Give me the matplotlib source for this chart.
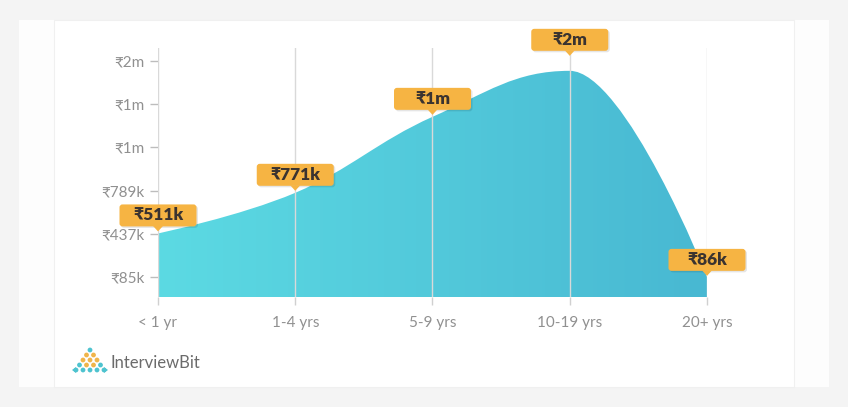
import numpy as np
import matplotlib
matplotlib.use("Agg")
import matplotlib.pyplot as plt
from matplotlib.path import Path
from matplotlib.patches import PathPatch, FancyBboxPatch, Polygon, Rectangle, Circle

plt.rcParams['font.family'] = ['Lato', 'Noto Sans', 'DejaVu Sans']

# ---------------- data ----------------
categories = ["< 1 yr", "1-4 yrs", "5-9 yrs", "10-19 yrs", "20+ yrs"]
salary_k = [440, 771, 1390, 1765, 86]          # curve heights (thousand ₹)
point_labels = ["₹511k", "₹771k", "₹1m", "₹2m", "₹86k"]
ytick_values_k = [85, 437, 789, 1141, 1493, 1845]
ytick_labels = ["₹85k", "₹437k", "₹789k", "₹1m", "₹1m", "₹2m"]

W, H = 848, 407
fig = plt.figure(figsize=(W / 100, H / 100), dpi=100)
fig.patch.set_facecolor("#f4f4f4")

# card background
fig.patches.append(Rectangle((19 / W, 1 - 387 / H), (829 - 19) / W, (387 - 20) / H,
                             transform=fig.transFigure, fc="#fdfdfd", ec="none", zorder=-10))
fig.patches.append(Rectangle((54 / W, 1 - 387 / H), (794 - 54) / W, (387 - 20) / H,
                             transform=fig.transFigure, fc="#ffffff", ec="#f0f0f0", lw=0.8, zorder=-9))

ax = fig.add_axes([158 / W, 1 - 297 / H, (707 - 158) / W, (297 - 48) / H])
ax.set_zorder(1)
ax.set_facecolor("none")
n = len(categories)
xs = np.arange(n, dtype=float)
ax.set_xlim(0, n - 1)
ax.set_ylim(-78, 1951)

# --------- Highcharts-like spline ----------
ys = np.array(salary_k, dtype=float)
smooth = 1.5
lc = [(x, y) for x, y in zip(xs, ys)]
rc = [(x, y) for x, y in zip(xs, ys)]
for i in range(1, n - 1):
    px, py = xs[i], ys[i]
    lx, ly = xs[i - 1], ys[i - 1]
    nx, ny = xs[i + 1], ys[i + 1]
    lcx = (smooth * px + lx) / (smooth + 1)
    lcy = (smooth * py + ly) / (smooth + 1)
    rcx = (smooth * px + nx) / (smooth + 1)
    rcy = (smooth * py + ny) / (smooth + 1)
    corr = (rcy - lcy) * (rcx - px) / (rcx - lcx) + py - rcy
    lcy += corr
    rcy += corr
    if lcy > ly and lcy > py:
        lcy = max(ly, py); rcy = 2 * py - lcy
    elif lcy < ly and lcy < py:
        lcy = min(ly, py); rcy = 2 * py - lcy
    if rcy > ny and rcy > py:
        rcy = max(ny, py); lcy = 2 * py - rcy
    elif rcy < ny and rcy < py:
        rcy = min(ny, py); lcy = 2 * py - rcy
    lc[i] = (lcx, lcy)
    rc[i] = (rcx, rcy)

y0 = ax.get_ylim()[0]
verts = [(xs[0], y0), (xs[0], ys[0])]
codes = [Path.MOVETO, Path.LINETO]
for i in range(1, n):
    verts += [rc[i - 1], lc[i], (xs[i], ys[i])]
    codes += [Path.CURVE4] * 3
verts += [(xs[-1], y0), (xs[0], y0)]
codes += [Path.LINETO, Path.CLOSEPOLY]
path = Path(verts, codes)
patch = PathPatch(path, fc="none", ec="none")
ax.add_patch(patch)

# horizontal gradient clipped to area
c_left = np.array([92, 218, 227]) / 255
c_right = np.array([72, 184, 210]) / 255
t = np.linspace(0, 1, 256)
grad = (c_left[None, :] * (1 - t[:, None]) + c_right[None, :] * t[:, None])[None, :, :]
im = ax.imshow(grad, extent=[xs[0], xs[-1], y0, max(ys) * 1.05], aspect="auto",
               origin="lower", zorder=1, interpolation="bilinear")
im.set_clip_path(patch)
ax.set_xlim(0, n - 1)
ax.set_ylim(-78, 1951)

# grid & axes styling
for x in xs:
    ax.axvline(x, color="#d9d9d9", lw=1.0, zorder=2)
for s in ax.spines.values():
    s.set_visible(False)
ax.set_xticks(xs)
ax.set_xticklabels(categories)
ax.set_yticks(ytick_values_k)
ax.set_yticklabels(ytick_labels)
ax.tick_params(axis="y", length=6, width=1, color="#bdbdbd", pad=4,
               labelsize=11, labelcolor="#909090")
ax.tick_params(axis="x", length=6, width=1, color="#d0d0d0", pad=8,
               labelsize=11, labelcolor="#909090")

# --------- tooltip boxes ----------
fig.canvas.draw()
tip_offsets = [-2, -2, -2, -15, -1]  # pixels (negative = tip above point)
box_w, box_h, ptr = 77, 22, 5
for x, y, lab, off in zip(xs, ys, point_labels, tip_offsets):
    px, py = ax.transData.transform((x, y))
    tip_y = py - off
    bottom = tip_y + ptr
    sh = FancyBboxPatch((px - box_w / 2 + 1.5, bottom - 1.5), box_w, box_h,
                        boxstyle="round,pad=0,rounding_size=3", transform=None,
                        fc="#000000", alpha=0.10, ec="none", zorder=5)
    fig.patches.append(sh)
    bx = FancyBboxPatch((px - box_w / 2, bottom), box_w, box_h,
                        boxstyle="round,pad=0,rounding_size=3", transform=None,
                        fc="#f6b443", ec="none", zorder=6)
    fig.patches.append(bx)
    tri = Polygon([(px - 5, bottom + 0.5), (px + 5, bottom + 0.5), (px, tip_y)],
                  closed=True, transform=None, fc="#f6b443", ec="none", zorder=6)
    fig.patches.append(tri)
    fig.text(px / W, (bottom + box_h / 2) / H, lab, ha="center", va="center",
             fontsize=12.5, fontweight="heavy", color="#3a3330", zorder=7)

# --------- logo ----------
teal = "#4ec3cf"
orange = "#f0b54a"
rows = [(1, 350), (2, 355), (3, 360), (4, 365), (5, 370)]
for k, (cnt, yy) in enumerate(rows):
    for j in range(cnt):
        xx = 90 - (cnt - 1) * 3.5 + j * 7
        col = teal if (k == 0 or k == len(rows) - 1 or j in (0, cnt - 1)) else orange
        if k in (1, 2) and j in (0, cnt - 1):
            col = orange
        fig.patches.append(Circle((xx, H - yy), 2.4, transform=None, fc=col, ec="none", zorder=3))
fig.patches.append(Polygon([(72, H - 370), (76, H - 367), (76, H - 373)], transform=None, fc=teal, ec="none", zorder=3))
fig.patches.append(Polygon([(108, H - 370), (104, H - 367), (104, H - 373)], transform=None, fc=teal, ec="none", zorder=3))
fig.text(110 / W, 1 - 363 / H, "InterviewBit", ha="left", va="center",
         fontsize=12, color="#6b6b6b")

fig.savefig("out.png", dpi=100, facecolor=fig.get_facecolor())
